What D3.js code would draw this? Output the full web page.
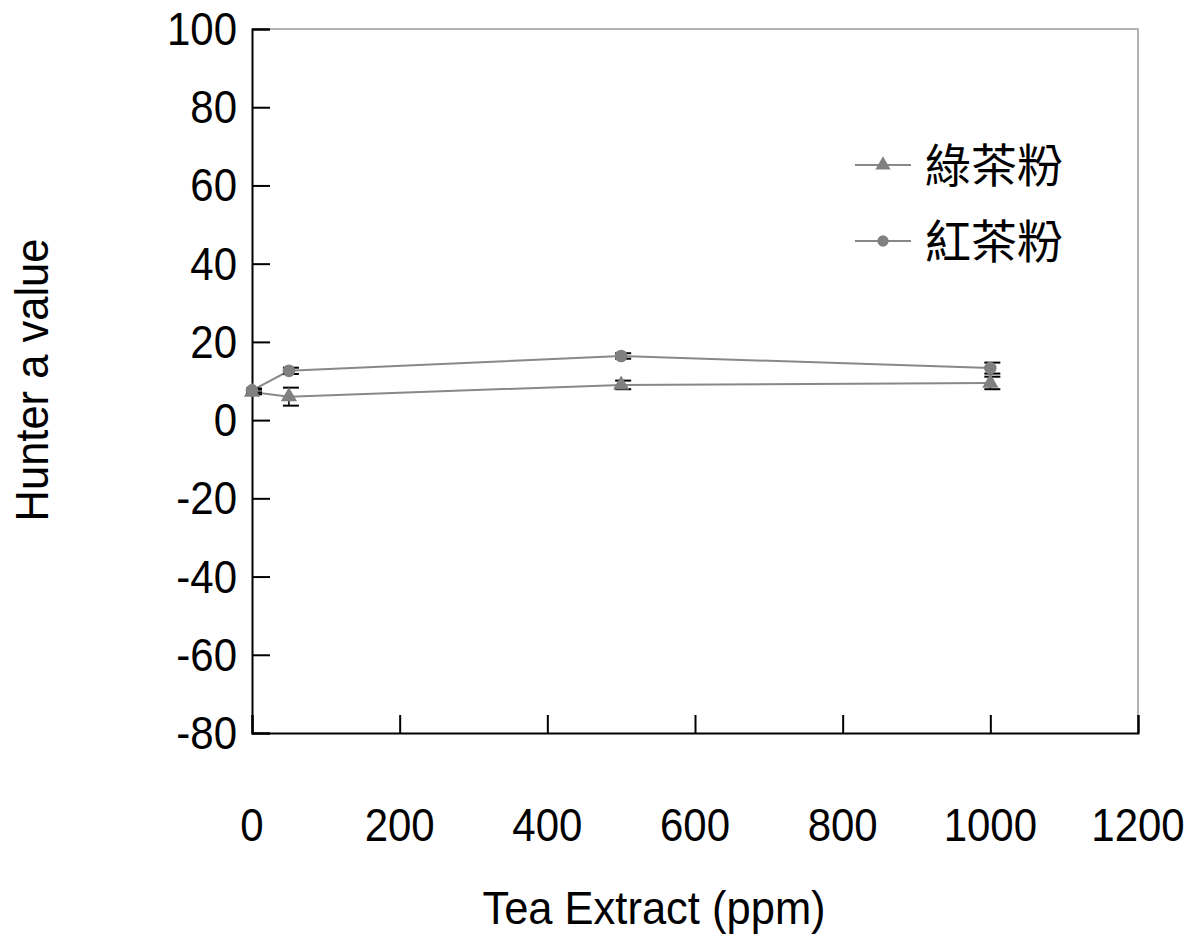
<!DOCTYPE html>
<html>
<head>
<meta charset="utf-8">
<script src="https://cdn.jsdelivr.net/npm/d3@7"></script>
<style>
  body { margin: 0; background: #fff; }
  text { font-family: "Liberation Sans", Arial, sans-serif; fill: #000; }
  .cjk { font-family: "Noto Sans CJK TC", "Noto Sans CJK SC", sans-serif; }
</style>
</head>
<body>
<div id="js_chart"></div>
<script>
// data
const doses = [0, 50, 500, 1000];
const greenTea = [7.2, 6.0, 9.0, 9.5];
const greenErr = [0.6, 2.3, 1.1, 1.6];
const blackTea = [7.6, 12.6, 16.4, 13.3];
const blackErr = [0.5, 0.8, 0.7, 1.4];
const seriesNames = ['綠茶粉', '紅茶粉'];
const xTicks = [0, 200, 400, 600, 800, 1000, 1200];
const yTicks = [-80, -60, -40, -20, 0, 20, 40, 60, 80, 100];

const width = 1201, height = 938;
const margin = { top: 29, right: 63, bottom: 205, left: 252 };
const lineGrey = 'rgb(136,136,136)';
const markGrey = 'rgb(128,128,128)';
const stretch = 1.08; // glyphs in the original are a bit taller than plain Arial

const svg = d3.select('#js_chart').append('svg')
	.attr('width', width)
	.attr('height', height);

const x = d3.scaleLinear().domain([0, 1200]).range([margin.left, width - margin.right]);
const y = d3.scaleLinear().domain([-80, 100]).range([height - margin.bottom, margin.top]);

// top + right frame (grey)
svg.append('path')
	.attr('d', 'M' + x(0) + ',' + y(100) + 'H' + x(1200) + 'V' + y(-80))
	.attr('fill', 'none')
	.attr('stroke', '#999')
	.attr('stroke-width', 1.5);

// axes with inside ticks
const xAxis = svg.append('g')
	.attr('transform', 'translate(0,' + y(-80) + ')')
	.call(d3.axisTop(x).tickValues(xTicks).tickSize(18).tickFormat(''));
const yAxis = svg.append('g')
	.attr('transform', 'translate(' + x(0) + ',0)')
	.call(d3.axisRight(y).tickValues(yTicks).tickSize(18).tickFormat(''));
[xAxis, yAxis].forEach(function (g) {
	g.select('.domain').attr('stroke', '#000').attr('stroke-width', 2);
	g.selectAll('.tick line').attr('stroke', '#000').attr('stroke-width', 2);
});

// tick labels
svg.append('g').selectAll('text')
	.data(yTicks).enter().append('text')
	.attr('transform', function (d) { return 'translate(237,' + (y(d) + 16) + ') scale(1,' + stretch + ')'; })
	.attr('text-anchor', 'end')
	.style('font-size', '42px')
	.text(function (d) { return d; });

svg.append('g').selectAll('text')
	.data(xTicks).enter().append('text')
	.attr('transform', function (d) { return 'translate(' + x(d) + ',841) scale(1,' + stretch + ')'; })
	.attr('text-anchor', 'middle')
	.style('font-size', '42px')
	.text(function (d) { return d; });

// axis titles
svg.append('text')
	.attr('transform', 'translate(654,924) scale(1,' + stretch + ')')
	.attr('text-anchor', 'middle')
	.style('font-size', '43.5px')
	.text('Tea Extract (ppm)');
svg.append('text')
	.attr('transform', 'translate(48,380) rotate(-90) scale(1,' + stretch + ')')
	.attr('text-anchor', 'middle')
	.style('font-size', '43.5px')
	.text('Hunter a value');

const series = [
	{ name: seriesNames[0], vals: greenTea, err: greenErr, shape: d3.symbolTriangle },
	{ name: seriesNames[1], vals: blackTea, err: blackErr, shape: d3.symbolCircle }
];
const line = d3.line()
	.x(function (d) { return x(d[0]); })
	.y(function (d) { return y(d[1]); });

series.forEach(function (s) {
	const pts = doses.map(function (d, i) { return [d, s.vals[i], s.err[i]]; });
	svg.append('path')
		.datum(pts)
		.attr('d', line)
		.attr('fill', 'none')
		.attr('stroke', lineGrey)
		.attr('stroke-width', 2);
	// error bars
	const eb = svg.append('g').selectAll('g').data(pts).enter().append('g');
	eb.append('line')
		.attr('x1', function (d) { return x(d[0]); })
		.attr('x2', function (d) { return x(d[0]); })
		.attr('y1', function (d) { return y(d[1] + d[2]); })
		.attr('y2', function (d) { return y(d[1] - d[2]); })
		.attr('stroke', '#000').attr('stroke-width', 1.5);
	[1, -1].forEach(function (sg) {
		eb.append('line')
			.attr('x1', function (d) { return x(d[0]) - 6; })
			.attr('x2', function (d) { return x(d[0]) + 10; })
			.attr('y1', function (d) { return y(d[1] + sg * d[2]); })
			.attr('y2', function (d) { return y(d[1] + sg * d[2]); })
			.attr('stroke', '#000').attr('stroke-width', 2);
	});
	svg.append('g').selectAll('path')
		.data(pts).enter().append('path')
		.attr('d', d3.symbol().type(s.shape).size(s.shape === d3.symbolCircle ? 125 : 115))
		.attr('transform', function (d) { return 'translate(' + x(d[0]) + ',' + y(d[1]) + ')'; })
		.attr('fill', markGrey);
});

// legend
const legend = svg.append('g').selectAll('g')
	.data(series).enter().append('g')
	.attr('transform', function (d, i) { return 'translate(855,' + (165 + i * 76) + ')'; });
legend.append('line')
	.attr('x1', 0).attr('x2', 56)
	.attr('stroke', lineGrey).attr('stroke-width', 2);
legend.append('path')
	.attr('d', function (d) { return d3.symbol().type(d.shape).size(100)(); })
	.attr('transform', 'translate(28,0)')
	.attr('fill', markGrey);
legend.append('text')
	.classed('cjk', true)
	.attr('x', 70).attr('y', 0)
	.attr('dy', '0.36em')
	.style('font-size', '46px')
	.text(function (d) { return d.name; });
</script>
</body>
</html>
